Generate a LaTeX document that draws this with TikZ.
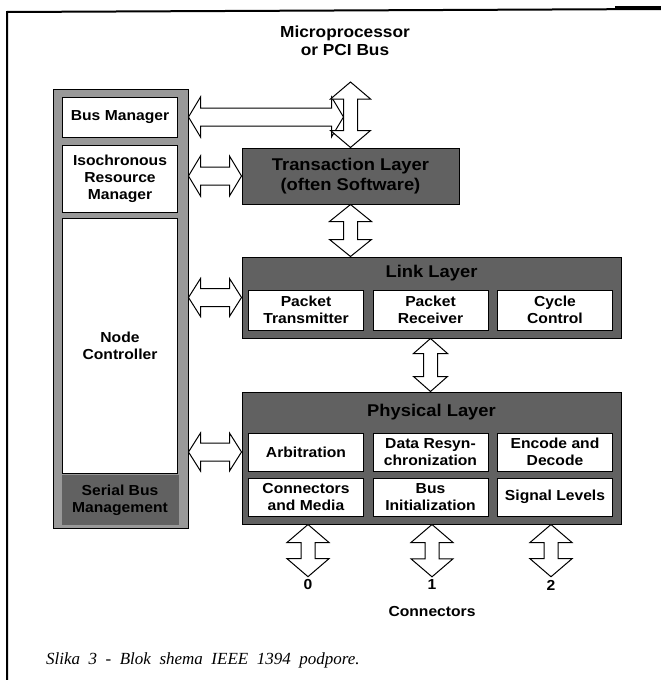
\documentclass[tikz,border=0pt]{standalone}
\usepackage{fontspec}
\setmainfont{Liberation Serif}
\newfontfamily\blockfont[FakeStretch=1.08]{Liberation Sans}
\usetikzlibrary{calc}

% hollow double block arrow: shaft half, head half, head length, from, to
\newcommand\busarrow[5]{%
  \coordinate (ba) at (#4);
  \coordinate (bb) at (#5);
  \coordinate (ha) at ($(ba)!#3!(bb)$);
  \coordinate (hb) at ($(bb)!#3!(ba)$);
  \draw[busarr] (ba) -- ($(ha)!#2!90:(bb)$) -- ($(ha)!#1!90:(bb)$)
    -- ($(hb)!#1!-90:(ba)$) -- ($(hb)!#2!-90:(ba)$) -- (bb)
    -- ($(hb)!#2!90:(ba)$) -- ($(hb)!#1!90:(ba)$)
    -- ($(ha)!#1!-90:(bb)$) -- ($(ha)!#2!-90:(bb)$) -- cycle;}

\tikzset{
  lbl/.style={font=\blockfont\bfseries\fontsize{14.5}{17}\selectfont, align=center, inner sep=0pt},
  title/.style={lbl, font=\blockfont\bfseries\fontsize{17}{20}\selectfont},
  blk/.style={lbl, draw=black, fill=white, line width=0.8pt, minimum width=115pt},
  layer/.style={draw=black, fill=black!62, line width=1pt, inner sep=0pt},
  busarr/.style={draw=black, fill=white, line width=1pt, line join=miter},
}

\begin{document}
\begin{tikzpicture}[x=1pt, y=-1pt]
  \useasboundingbox (0,0) rectangle (661,680);

  % frame
  \draw[line width=2pt] (7,680) -- (7,12) -- (661,9);
  \draw[line width=4pt] (615,8) -- (661,8);

  % host bus
  \node[lbl, font=\blockfont\bfseries\fontsize{16}{18}\selectfont] (mp) at (345,41)
    {Microprocessor\\or PCI Bus};
  \coordinate (pci) at (350.5,82);

  % serial bus management column
  \node[layer, fill=black!40, minimum width=135pt, minimum height=439pt] (sbm) at (120.5,308.5) {};
  \node[blk, minimum height=40pt] (bm) at (120,117) {Bus Manager};
  \node[blk, minimum height=67pt] (irm) at (120,178.5) {Isochronous\\Resource\\Manager};
  \node[blk, minimum height=255pt] (nc) at (120,345.5) {Node\\Controller};
  \node[lbl, fill=black!62, minimum width=117pt, minimum height=50pt] (sbmtxt) at (120,500)
    {Serial Bus\\Management};

  % transaction layer
  \node[layer, title, minimum width=217pt, minimum height=56pt] (tl) at (350.5,176)
    {Transaction Layer\\(often Software)};

  % link layer
  \node[layer, minimum width=379pt, minimum height=81pt] (ll) at (431.5,297.5) {};
  \node[title] (lltxt) at (431.5,273) {Link Layer};
  \node[blk, minimum height=40pt] (pt) at (306,310) {Packet\\Transmitter};
  \node[blk, minimum height=40pt] (pr) at (430.5,310) {Packet\\Receiver};
  \node[blk, minimum height=40pt] (cc) at (555,310) {Cycle\\Control};

  % physical layer
  \node[layer, minimum width=379pt, minimum height=132pt] (pl) at (431.5,458) {};
  \node[title] (pltxt) at (431.5,412) {Physical Layer};
  \node[blk, minimum height=38pt] (arb) at (306,452) {Arbitration};
  \node[blk, minimum height=38pt] (drs) at (430.5,452) {Data Resyn-\\chronization};
  \node[blk, minimum height=38pt] (enc) at (555,452) {Encode and\\Decode};
  \node[blk, minimum height=38pt] (cm) at (306,497) {Connectors\\and Media};
  \node[blk, minimum height=38pt] (bi) at (430.5,497) {Bus\\Initialization};
  \node[blk, minimum height=38pt] (sl) at (555,497) {Signal Levels};

  % connectors
  \node[lbl, inner sep=3pt] (n0) at (308,585) {0};
  \node[lbl, inner sep=3pt] (n1) at (432,585) {1};
  \node[lbl, inner sep=3pt] (n2) at (551,585) {2};
  \node[lbl] (conn) at (432,612) {Connectors};

  % arrows
  \busarrow{9pt}{20pt}{12pt}{sbm.east |- bm}{$(pci |- bm)+(-7,0)$}
  \busarrow{7pt}{20pt}{17pt}{pci}{tl.north}
  \busarrow{9pt}{20pt}{12pt}{sbm.east |- tl.west}{tl.west}
  \busarrow{7pt}{21pt}{17pt}{tl.south}{tl.south |- ll.north}
  \busarrow{9pt}{19pt}{12pt}{sbm.east |- ll.west}{ll.west}
  \busarrow{7pt}{17pt}{15pt}{ll.south -| pr}{pl.north -| pr}
  \busarrow{9pt}{19pt}{12pt}{sbm.east |- arb}{pl.west |- arb}
  \foreach \c in {n0,n1,n2}
    \busarrow{7pt}{21pt}{18pt}{pl.south -| \c}{\c.north};

  % caption
  \node[anchor=west, font=\itshape\fontsize{17}{20}\selectfont, inner sep=0pt] (cap) at (46,660)
    {\spaceskip=0.5em Slika 3 - Blok shema IEEE 1394 podpore.};
\end{tikzpicture}
\end{document}
